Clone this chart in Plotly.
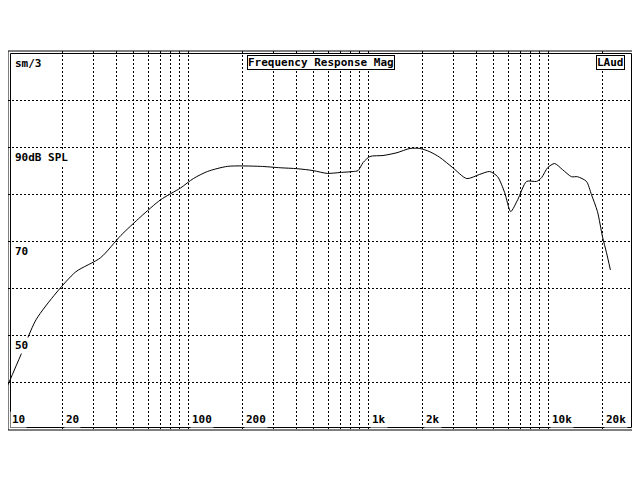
import plotly.graph_objects as go
import numpy as np

freq = [10.0, 11.8, 14.3, 18.5, 23.8, 32.7, 42.3, 54.6, 70.4, 90.8, 107, 128, 166, 252, 325, 404,
        496, 593, 700, 826, 880, 938, 1026, 1211, 1448, 1709, 1941, 2204, 2504, 2958, 3535, 4172,
        4739, 5245, 5740, 6198, 6776, 7600, 8632, 9201, 9934, 10865, 12030, 13490, 14560, 16330,
        17410, 18800, 20040, 21090, 22190]
spl = [39.6, 46.0, 53.4, 59.1, 63.6, 66.6, 71.3, 75.3, 78.9, 81.4, 83.4, 84.9, 86.0, 86.0, 85.7, 85.5,
       85.1, 84.5, 84.7, 84.9, 85.1, 86.8, 88.1, 88.3, 88.9, 89.8, 89.8, 89.1, 87.9, 85.7, 83.4, 84.3,
       84.9, 83.8, 80.4, 76.4, 78.9, 82.8, 82.8, 83.6, 85.7, 86.6, 85.3, 83.8, 83.8, 82.8,
       80.0, 76.4, 71.1, 67.7, 64.0]

x_tick_vals = [10, 20, 100, 200, 1000, 2000, 10000, 20000]
x_tick_text = ["10", "20", "100", "200", "1k", "2k", "10k", "20k"]
y_tick_vals = [90, 70, 50]
y_tick_text = ["90dB SPL", "70", "50"]

FONT = "DejaVu Sans Mono"
fig = go.Figure()
fig.add_trace(go.Scatter(x=freq, y=spl, mode="lines", line=dict(color="black", width=1, shape="spline", smoothing=0.7),
                         hoverinfo="skip", showlegend=False))

grid_x = [m * 10 ** d for d in range(1, 5) for m in range(1, 10) if m * 10 ** d <= 30000]
fig.update_xaxes(type="log", range=[1, np.log10(30000)], tickvals=grid_x, showticklabels=False,
                 showgrid=True, gridcolor="black", griddash="2px,2px", gridwidth=1, zeroline=False,
                 showline=False, ticks="")
fig.update_yaxes(range=[30, 110.5], tickvals=list(range(40, 110, 10)), showticklabels=False,
                 showgrid=True, gridcolor="black", griddash="2px,2px", gridwidth=1, zeroline=False,
                 showline=False, ticks="")

anns = []
for v, t in zip(x_tick_vals, x_tick_text):
    anns.append(dict(x=np.log10(v), y=0.005, xref="x", yref="y domain", text="<b>%s</b>" % t,
                     showarrow=False, xanchor="left", yanchor="bottom", xshift=2, bgcolor="white",
                     font=dict(family=FONT, size=11, color="black")))
for v, t in zip(y_tick_vals, y_tick_text):
    anns.append(dict(x=0.008, y=v, xref="x domain", yref="y", text="<b>%s</b>" % t,
                     showarrow=False, xanchor="left", yanchor="top", yshift=-1, bgcolor="white",
                     font=dict(family=FONT, size=11, color="black")))
anns.append(dict(x=0.008, y=0.99, xref="x domain", yref="y domain", text="<b>sm/3</b>", showarrow=False,
                 xanchor="left", yanchor="top", bgcolor="white", font=dict(family=FONT, size=11, color="black")))
anns.append(dict(x=0.5, y=0.99, xref="x domain", yref="y domain", text="<b>Frequency Response Mag</b>",
                 showarrow=False, xanchor="center", yanchor="top", bgcolor="white", bordercolor="black",
                 borderwidth=1, borderpad=0, font=dict(family=FONT, size=11, color="black")))
anns.append(dict(x=0.985, y=0.99, xref="x domain", yref="y domain", text="<b>LAud</b>",
                 showarrow=False, xanchor="right", yanchor="top", bgcolor="white", bordercolor="black",
                 borderwidth=1, borderpad=0, font=dict(family=FONT, size=11, color="black")))

dx, dy = 2.5 / 627, 2.5 / 379
shapes = [
    dict(type="rect", xref="x domain", yref="y domain", x0=0, x1=1, y0=0, y1=1, line=dict(color="black", width=1)),
    dict(type="rect", xref="x domain", yref="y domain", x0=dx, x1=1 - dx, y0=dy, y1=1 - dy,
         line=dict(color="black", width=1)),
]
fig.update_layout(width=630, height=470, margin=dict(l=0, r=4, t=43, b=48), plot_bgcolor="white",
                  paper_bgcolor="white", annotations=anns, shapes=shapes)
fig.write_html("out.html")
